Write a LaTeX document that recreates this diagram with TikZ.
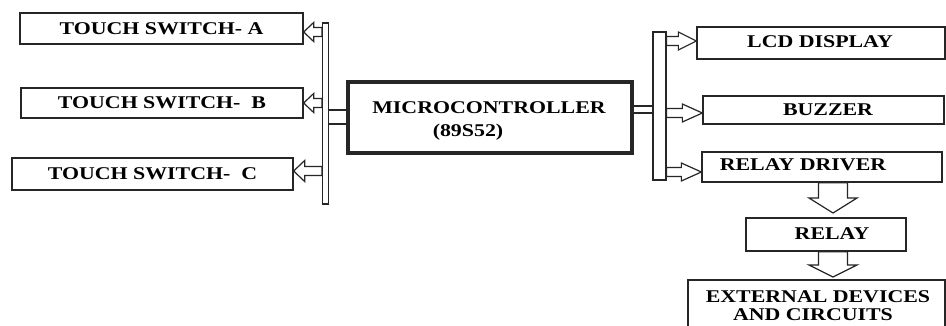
\documentclass[tikz,border=0pt]{standalone}
\usepackage{fontspec}
\setmainfont{Liberation Serif}[FakeStretch=1.22]
\usetikzlibrary{calc}
\newcommand{\hollowarr}[5]{% shaft half, head half, head length, tail, tip
  \draw[arrline] ($(#5)$)
    -- ($($(#5)!#3!(#4)$)!#2!90:(#4)$)
    -- ($($(#5)!#3!(#4)$)!#1!90:(#4)$)
    -- ($(#4)!#1!-90:(#5)$)
    -- ($(#4)!#1!90:(#5)$)
    -- ($($(#5)!#3!(#4)$)!#1!-90:(#4)$)
    -- ($($(#5)!#3!(#4)$)!#2!-90:(#4)$)
    -- cycle;}
\begin{document}
\begin{tikzpicture}[x=1bp,y=-1bp,
  box/.style={draw=black!85, line width=1.3bp, rectangle, inner sep=0pt,
    font=\bfseries\fontsize{18}{20}\selectfont},
  mcubox/.style={box, line width=3.5bp},
  lbl/.style={inner sep=0pt, font=\bfseries\fontsize{18}{20}\selectfont, align=center},
  busline/.style={draw=black!85, line width=1.2bp},
  arrline/.style={draw=black!85, line width=1.2bp, fill=white}]
\path[use as bounding box, clip] (0,0) rectangle (946,325);
\fill[white] (0,0) rectangle (946,325);
% left boxes
\node[box, minimum width=283bp, minimum height=31bp] (tsa) at (161.5,28.5) {TOUCH SWITCH- A};
\node[box, minimum width=282bp, minimum height=30bp] (tsb) at (162,103) {TOUCH SWITCH-\ \ B};
\node[box, minimum width=281bp, minimum height=32bp] (tsc) at (152.5,174) {TOUCH SWITCH-\ \ C};
% microcontroller
\node[mcubox, minimum width=284bp, minimum height=71bp] (mcu) at (490,117.5) {};
\node[lbl] (mcut) at (489,108) {MICROCONTROLLER};
\node[lbl] (mcun) at (468,132) {(89S52)};
% buses
\node[busline, rectangle, inner sep=0pt, minimum width=6bp, minimum height=181bp] (lbus) at (325.5,113.5) {};
\node[busline, rectangle, inner sep=0pt, minimum width=13bp, minimum height=148bp] (rbus) at (659.5,106) {};
% right boxes
\node[box, minimum width=248bp, minimum height=32bp] (lcd) at (821,43) {};
\node[lbl] (lcdt) at (820,42) {LCD DISPLAY};
\node[box, minimum width=241bp, minimum height=28bp] (buz) at (823.5,110) {};
\node[lbl] (buzt) at (828,110) {BUZZER};
\node[box, minimum width=240bp, minimum height=30bp] (rd) at (822,167) {};
\node[lbl] (rdt) at (803,165) {RELAY DRIVER};
\node[box, minimum width=160bp, minimum height=33bp] (rel) at (826,234.5) {};
\node[lbl] (relt) at (832,234) {RELAY};
\node[box, minimum width=257bp, minimum height=60bp] (ext) at (816.5,310) {};
\node[lbl] (extt1) at (818,297) {EXTERNAL DEVICES};
\node[lbl] (extt2) at (813,315) {AND CIRCUITS};
% double links to MCU
\draw[busline] (lbus.east |- 0,110) -- (mcu.west |- 0,110);
\draw[busline] (lbus.east |- 0,124) -- (mcu.west |- 0,124);
\draw[busline] (mcu.east |- 0,106) -- (rbus.west |- 0,106);
\draw[busline] (mcu.east |- 0,113) -- (rbus.west |- 0,113);
% left hollow arrows
\coordinate (la1) at (lbus.west |- 0,32);  \coordinate (la2) at (tsa.east |- 0,32);
\coordinate (lb1) at (lbus.west |- 0,103); \coordinate (lb2) at (tsb.east |- 0,103);
\coordinate (lc1) at (lbus.west |- 0,171); \coordinate (lc2) at (tsc.east |- 0,171);
\hollowarr{4.5bp}{9.5bp}{10bp}{la1}{la2}
\hollowarr{4.5bp}{9.5bp}{10bp}{lb1}{lb2}
\hollowarr{4.5bp}{10.5bp}{11bp}{lc1}{lc2}
% right hollow arrows
\coordinate (ra1) at (rbus.east |- 0,41);  \coordinate (ra2) at (lcd.west |- 0,41);
\coordinate (rb1) at (rbus.east |- 0,113); \coordinate (rb2) at (buz.west |- 0,113);
\coordinate (rc1) at (rbus.east |- 0,172); \coordinate (rc2) at (rd.west |- 0,172);
\hollowarr{4.5bp}{9bp}{18bp}{ra1}{ra2}
\hollowarr{4.5bp}{9bp}{20bp}{rb1}{rb2}
\hollowarr{4.5bp}{9bp}{20bp}{rc1}{rc2}
% down arrows
\coordinate (d1a) at (833,0 |- rd.south);  \coordinate (d1b) at (833,213);
\coordinate (d2a) at (833,0 |- rel.south); \coordinate (d2b) at (833,277);
\hollowarr{14.5bp}{24bp}{15bp}{d1a}{d1b}
\hollowarr{14.5bp}{24bp}{12bp}{d2a}{d2b}
\end{tikzpicture}
\end{document}
